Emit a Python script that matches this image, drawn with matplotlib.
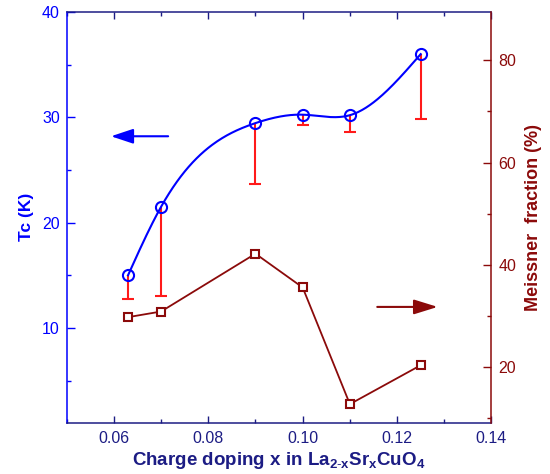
import numpy as np
import matplotlib
matplotlib.use("Agg")
import matplotlib.pyplot as plt
from matplotlib.ticker import MultipleLocator, FixedLocator
from matplotlib.patches import FancyArrowPatch

plt.rcParams['font.family'] = ['Liberation Sans', 'DejaVu Sans']
plt.rcParams['mathtext.fontset'] = 'custom'
plt.rcParams['mathtext.rm'] = 'Liberation Sans'
plt.rcParams['mathtext.bf'] = 'Liberation Sans:bold'

# ---- data ----
doping = [0.063, 0.070, 0.090, 0.100, 0.110, 0.125]
tc = [15.0, 21.5, 29.45, 30.25, 30.2, 36.0]
tc_lower = [12.75, 13.0, 23.7, 29.3, 28.65, 29.8]
meissner = [29.8, 30.9, 42.2, 35.6, 12.8, 20.4]

x_ticks = [0.06, 0.08, 0.10, 0.12, 0.14]
x_ticklabels = ["0.06", "0.08", "0.10", "0.12", "0.14"]
tc_ticks = [10, 20, 30, 40]
mf_ticks = [20, 40, 60, 80]

BLUE = '#0000ff'
DRED = '#8b0a0a'
RED = '#ff1a1a'
NAVY = '#1c1c84'


def natural_spline(x, y, xs):
    x = np.asarray(x, float)
    y = np.asarray(y, float)
    n = len(x)
    h = np.diff(x)
    A = np.zeros((n, n))
    r = np.zeros(n)
    A[0, 0] = 1
    A[-1, -1] = 1
    for i in range(1, n - 1):
        A[i, i - 1] = h[i - 1]
        A[i, i] = 2 * (h[i - 1] + h[i])
        A[i, i + 1] = h[i]
        r[i] = 3 * ((y[i + 1] - y[i]) / h[i] - (y[i] - y[i - 1]) / h[i - 1])
    c = np.linalg.solve(A, r)
    b = (y[1:] - y[:-1]) / h - h * (2 * c[:-1] + c[1:]) / 3
    d = (c[1:] - c[:-1]) / (3 * h)
    idx = np.clip(np.searchsorted(x, xs) - 1, 0, n - 2)
    dx = xs - x[idx]
    return y[idx] + b[idx] * dx + c[idx] * dx ** 2 + d[idx] * dx ** 3


fig = plt.figure(figsize=(5.5, 4.74), dpi=100)
ax = fig.add_axes([0.1212, 0.1082, 0.8936 - 0.1212, 0.9747 - 0.1082])
ax2 = ax.twinx()

# Tc curve
xs = np.linspace(doping[0], doping[-1], 300)
ax.plot(xs, natural_spline(doping, tc, xs), color=BLUE, lw=1.5, zorder=3)
# one-sided error bars
ax.vlines(doping, tc_lower, tc, color=RED, lw=1.5, zorder=2)
ax.plot(doping, tc_lower, linestyle='none', marker='_', ms=9, mew=1.5,
        color=RED, zorder=2)
ax.plot(doping, tc, linestyle='none', marker='o', ms=8, mfc='none',
        mec=BLUE, mew=1.5, zorder=4)

# Meissner fraction
ax2.plot(doping, meissner, color=DRED, lw=1.3, marker='s', ms=6,
         mfc='white', mec=DRED, mew=1.5)

# arrows
ax.add_patch(FancyArrowPatch((0.0715, 28.2), (0.0594, 28.2),
                             arrowstyle='-|>,head_length=1.35,head_width=0.45',
                             mutation_scale=10, color=BLUE, lw=1.5,
                             shrinkA=0, shrinkB=0))
ax2.add_patch(FancyArrowPatch((0.1158, 31.8), (0.1286, 31.8),
                              arrowstyle='-|>,head_length=1.45,head_width=0.45',
                              mutation_scale=10, color=DRED, lw=1.5,
                              shrinkA=0, shrinkB=0))

# limits / ticks
ax.set_xlim(0.05, 0.14)
ax.set_ylim(1, 40)
ax2.set_ylim(9.17, 89.44)

ax.xaxis.set_major_locator(FixedLocator(x_ticks))
ax.set_xticklabels(x_ticklabels)
ax.xaxis.set_minor_locator(MultipleLocator(0.01))
ax.yaxis.set_major_locator(FixedLocator(tc_ticks))
ax.yaxis.set_minor_locator(MultipleLocator(5))
ax2.yaxis.set_major_locator(FixedLocator(mf_ticks))
ax2.yaxis.set_minor_locator(MultipleLocator(10))

ax.tick_params(axis='x', which='both', direction='in', top=True, colors=NAVY,
               labelsize=11.5, pad=6)
ax.tick_params(axis='x', which='major', length=5, width=1)
ax.tick_params(axis='x', which='minor', length=3, width=1)
ax.tick_params(axis='y', which='both', direction='in', colors=BLUE,
               labelsize=11.5, pad=5)
ax.tick_params(axis='y', which='major', length=6, width=1)
ax.tick_params(axis='y', which='minor', length=3, width=1)
ax2.tick_params(axis='y', which='both', direction='in', colors=DRED,
                labelsize=11.5, pad=5)
ax2.tick_params(axis='y', which='major', length=6, width=1)
ax2.tick_params(axis='y', which='minor', length=3, width=1)

for a in (ax, ax2):
    for s in a.spines.values():
        s.set_linewidth(1.1)
ax.spines['left'].set_color(BLUE)
ax.spines['bottom'].set_color(NAVY)
ax.spines['top'].set_color(NAVY)
ax.spines['right'].set_visible(False)
ax2.spines['left'].set_visible(False)
ax2.spines['top'].set_visible(False)
ax2.spines['bottom'].set_visible(False)
ax2.spines['right'].set_color(DRED)

ax.set_xlabel(r'Charge doping x in La$_{\mathbf{2\text{-}x}}$Sr$_{\mathbf{x}}$CuO$_{\mathbf{4}}$',
              fontsize=13.5, fontweight='bold', color=NAVY, labelpad=3)
ax.set_ylabel('Tc (K)', fontsize=12.5, fontweight='bold', color=BLUE, labelpad=6)
ax2.set_ylabel('Meissner  fraction (%)', fontsize=13, fontweight='bold',
               color=DRED, labelpad=6)

fig.savefig('out.png', dpi=100)
